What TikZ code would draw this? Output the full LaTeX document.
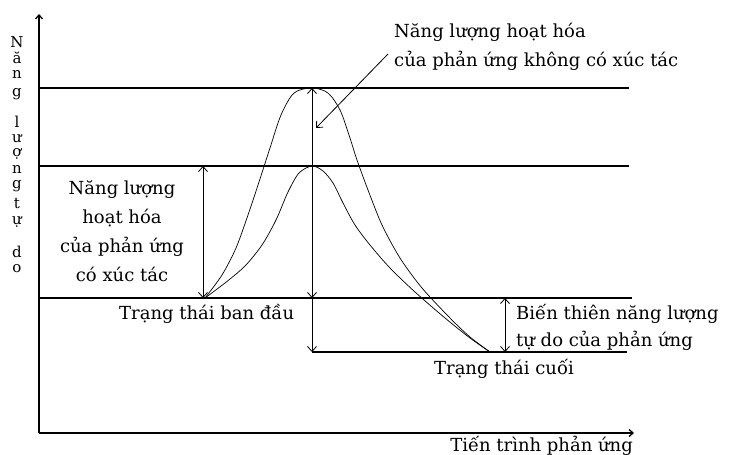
\documentclass[tikz,border=0pt]{standalone}
\usepackage{fontspec}
\setmainfont{DejaVu Serif}
\usetikzlibrary{arrows.meta, positioning}

\begin{document}
\begin{tikzpicture}[x=1pt, y=-1pt,
  txt/.style={font=\fontsize{18}{29}\selectfont, inner sep=0pt},
  letter/.style={font=\fontsize{15}{15}\selectfont, inner sep=0pt},
  level/.style={line width=1.3pt},
  dimarr/.style={line width=0.8pt, {Straight Barb[length=5pt,width=9pt]}-{Straight Barb[length=5pt,width=9pt]}},
  onearr/.style={line width=0.8pt, -{Straight Barb[length=5pt,width=9pt]}},
  curve/.style={line width=0.7pt, smooth}]
\useasboundingbox (0,0) rectangle (734,455);
% Axes
\coordinate (O) at (39,433);
\coordinate (ytop) at (39,14);
\coordinate (xend) at (634,433);
\draw[level, -{Straight Barb[length=4pt,width=7pt]}] (O) -- (ytop);
\draw[level, -{Straight Barb[length=4pt,width=7pt]}] (O) -- (xend);
% Energy levels
\coordinate (top0) at (39,88);   \coordinate (top1) at (629,88);
\coordinate (cat0) at (39,166);  \coordinate (cat1) at (629,166);
\coordinate (ini0) at (39,298);  \coordinate (ini1) at (632,298);
\coordinate (fin0) at (312,352); \coordinate (fin1) at (627,352);
\draw[level] (top0) -- (top1);
\draw[level] (cat0) -- (cat1);
\draw[level] (ini0) -- (ini1);
\draw[level] (fin0) -- (fin1);
% Reaction paths
\draw[curve] plot coordinates {
  (205,298) (222,275) (236,248) (248,215) (259,182) (270,148)
  (281,115) (294,93) (312,88) (328,93) (340,110) (349,135)
  (357,160) (368,190) (382,225) (400,258) (422,288) (450,318)
  (470,337) (490,352)};
\draw[curve] plot coordinates {
  (205,298) (225,283) (245,266) (262,245) (276,220) (288,192)
  (299,173) (312,166) (323,171) (333,183) (343,203) (355,225)
  (370,245) (390,268) (415,292) (445,318) (470,338) (490,352)};
% Arrows
\coordinate (a0) at (203,166); \coordinate (a1) at (203,298);
\coordinate (b0) at (312,88);  \coordinate (b1) at (312,298); \coordinate (b2) at (312,352);
\coordinate (c0) at (505,298); \coordinate (c1) at (505,352);
\draw[dimarr] (a0) -- (a1);
\draw[dimarr] (b0) -- (b1);
\draw[onearr] (b1) -- (b2);
\draw[dimarr] (c0) -- (c1);
% Labels
\node[txt, anchor=west, align=left] (noncat) at (394,47)
  {Năng lượng hoạt hóa\\của phản ứng không có xúc tác};
\coordinate (ptr0) at (388,54);
\coordinate (ptr1) at (316,128);
\draw[onearr] (ptr0) -- (ptr1);
\node[txt, align=center] (cat) at (122,231)
  {Năng lượng\\hoạt hóa\\của phản ứng\\có xúc tác};
\node[txt, anchor=west] (ini) at (119,314) {Trạng thái ban đầu};
\node[txt, anchor=east] (fin) at (574,369) {Trạng thái cuối};
\node[txt, anchor=west, align=left, font=\fontsize{18}{27}\selectfont] (delta) at (516,327)
  {Biến thiên năng lượng\\tự do của phản ứng};
\node[txt, anchor=east] (xlab) at (633,446) {Tiến trình phản ứng};
% Vertical axis title
\foreach \c/\y [count=\i] in {N/42,ă/58,n/74,g/94,l/122,ư/139,ợ/154,n/169,g/186,t/204,ự/222,d/252,o/269}
  \node[letter] (v\i) at (17,\y) {\c};
\end{tikzpicture}
\end{document}
